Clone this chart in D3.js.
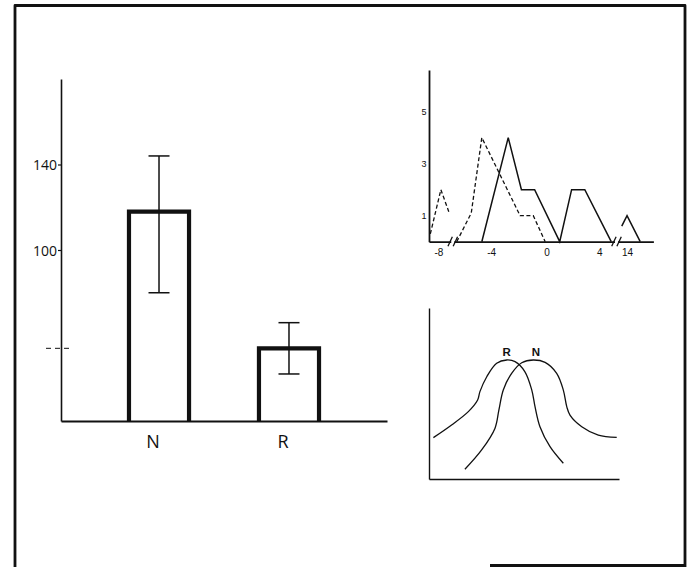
<!DOCTYPE html>
<html>
<head>
<meta charset="utf-8">
<script src="https://cdn.jsdelivr.net/npm/d3@7"></script>
<style>
  html, body { margin: 0; padding: 0; background: #fff; }
  svg { display: block; }
</style>
</head>
<body>
<svg id="fig" width="692" height="567"></svg>
<script>
// ---- Main panel: mean response per group with error-bar ends ----
const categories = ["N", "R"];
const means = [118, 54];
const errLow = [80, 42];
const errHigh = [144, 66];
const yTickValues = [100, 140];
const markerValues = [54];          // unlabelled dashed mark on the y axis

// ---- Upper inset: frequency distributions (x = score, y = count) ----
const solidSegments = [
  [[-4.9, 0], [-2.9, 4], [-1.9, 2], [-0.9, 2], [1.0, 0], [1.9, 2], [2.9, 2], [4.9, 0]],
  [[13.6, 0.6], [14, 1], [15, 0]]
];
const dashedSegments = [
  [[-8.8, 0.3], [-8, 2], [-7.4, 1.15]],
  [[-6.8, 0], [-5.7, 1.1], [-4.9, 4], [-2, 1], [-1, 1], [-0.1, 0]]
];
const distXTicks = [-8, -4, 0, 4, 14];
const distYTicks = [1, 3, 5];
const breakPoints = [-7.1, 5.35];

// ---- Lower inset: schematic response curves ----
const curveLabels = ["R", "N"];
const curveR = [
  [2.3, 24.2], [11.9, 31.6], [20.7, 39.4], [25.6, 46.2], [26.8, 51.1], [30.4, 59.8],
  [35.6, 67.7], [40.9, 69.6], [45.3, 68.6], [50.5, 62.7], [54.1, 52], [55.8, 42.3],
  [58.4, 30.6], [63.7, 18.9], [70.7, 9.2]
];
const curveN = [
  [18.9, 5.7], [27.7, 17], [34.7, 29.6], [36.8, 40.4], [39.1, 52], [43.5, 61.8],
  [48.8, 68], [54.9, 69.6], [61.1, 68.2], [67.2, 61.8], [70.7, 52], [72.5, 42.3],
  [74.2, 37.4], [80.4, 30.6], [89.1, 25.7], [98.8, 24.4]
];

const ink = "#111";
const svg = d3.select("#fig");

// ---------- frame ----------
svg.append("path")
  .attr("d", "M15,567 V5.5 H685 V567 M490,565.5 H686")
  .attr("fill", "none").attr("stroke", ink).attr("stroke-width", 2.8)
  .attr("stroke-linejoin", "round");

// ---------- main bar panel ----------
const yMain = d3.scaleLinear().domain([20, 180]).range([421, 79]);
const xMain = d3.scaleBand().domain(categories).range([61, 387])
  .paddingInner(0.538).paddingOuter(0.523);

const gBars = svg.append("g");
gBars.selectAll("path.bar").data(categories).join("path")
  .attr("class", "bar")
  .attr("d", (c, i) => {
    const x0 = xMain(c), x1 = x0 + xMain.bandwidth();
    return `M${x0},${yMain.range()[0]} V${yMain(means[i])} H${x1} V${yMain.range()[0]}`;
  })
  .attr("fill", "none").attr("stroke", ink).attr("stroke-width", 4.2)
  .attr("stroke-linejoin", "miter");

const cx = c => xMain(c) + xMain.bandwidth() / 2;
const capHalf = 10.5;
const gErr = svg.append("g").attr("stroke", ink).attr("stroke-width", 1.5);
gErr.selectAll("line.stem").data(categories).join("line")
  .attr("x1", cx).attr("x2", cx)
  .attr("y1", (c, i) => yMain(errHigh[i])).attr("y2", (c, i) => yMain(errLow[i]));
gErr.selectAll("line.top").data(categories).join("line")
  .attr("x1", c => cx(c) - capHalf).attr("x2", c => cx(c) + capHalf)
  .attr("y1", (c, i) => yMain(errHigh[i])).attr("y2", (c, i) => yMain(errHigh[i]));
gErr.selectAll("line.bot").data(categories).join("line")
  .attr("x1", c => cx(c) - capHalf).attr("x2", c => cx(c) + capHalf)
  .attr("y1", (c, i) => yMain(errLow[i])).attr("y2", (c, i) => yMain(errLow[i]));

const gY = svg.append("g").attr("transform", "translate(61,0)")
  .call(d3.axisLeft(yMain).tickValues(yTickValues).tickSize(3).tickSizeOuter(0).tickPadding(1)
    .tickFormat(d3.format("d")));
gY.select(".domain").attr("stroke", ink).attr("stroke-width", 1.6);
gY.selectAll(".tick line").attr("stroke", ink).attr("stroke-width", 1.2);
gY.selectAll(".tick text")
  .attr("font-family", "'Open Sans', sans-serif").attr("font-size", 14)
  .attr("fill", ink).attr("dy", "0.36em");

svg.append("g").selectAll("line").data(markerValues).join("line")
  .attr("x1", 46).attr("x2", 72)
  .attr("y1", d => yMain(d)).attr("y2", d => yMain(d))
  .attr("stroke", ink).attr("stroke-width", 1).attr("stroke-dasharray", "5,4");

const gX = svg.append("g").attr("transform", `translate(0,${yMain.range()[0]})`)
  .call(d3.axisBottom(xMain).tickSize(0).tickSizeOuter(0));
gX.select(".domain").attr("stroke", ink).attr("stroke-width", 2);
gX.selectAll(".tick text")
  .attr("font-family", "'Open Sans', sans-serif").attr("font-size", 18)
  .attr("fill", ink).attr("y", 27).attr("dy", 0).attr("dx", -6);

// ---------- upper inset: distributions ----------
const xDist = d3.scaleLinear().domain([-8.9, 5.3, 13.3, 16]).range([429, 616.5, 617.8, 653.4]);
const yDist = d3.scaleLinear().domain([0, 6.6]).range([241.7, 70]);
const fmtTick = d => d < 0 ? "-" + Math.abs(d) : String(d);

const gDX = svg.append("g").attr("transform", `translate(0,${yDist.range()[0]})`)
  .call(d3.axisBottom(xDist).tickValues(distXTicks).tickSize(0).tickSizeOuter(0).tickFormat(fmtTick));
gDX.select(".domain").attr("stroke", ink).attr("stroke-width", 1.8);
gDX.selectAll(".tick text")
  .attr("font-family", "'Liberation Sans', Arial, sans-serif").attr("font-size", 10)
  .attr("fill", ink).attr("y", 14.5).attr("dy", 0)
  .attr("dx", d => d < 0 ? -2.5 : 0);

const gDY = svg.append("g").attr("transform", `translate(${xDist.range()[0]},0)`)
  .call(d3.axisLeft(yDist).tickValues(distYTicks).tickSize(0).tickSizeOuter(0).tickPadding(2.5)
    .tickFormat(d3.format("d")));
gDY.select(".domain").attr("stroke", ink).attr("stroke-width", 1.8);
gDY.selectAll(".tick text")
  .attr("font-family", "'Liberation Sans', Arial, sans-serif").attr("font-size", 9)
  .attr("fill", ink);

const distLine = d3.line().x(d => xDist(d[0])).y(d => yDist(d[1]));
svg.append("g").selectAll("path").data(solidSegments).join("path")
  .attr("d", distLine).attr("fill", "none").attr("stroke", ink)
  .attr("stroke-width", 1.5).attr("stroke-linejoin", "miter");
svg.append("g").selectAll("path").data(dashedSegments).join("path")
  .attr("d", distLine).attr("fill", "none").attr("stroke", ink)
  .attr("stroke-width", 1.3).attr("stroke-dasharray", "4,2.5");

// axis break marks
const gBreak = svg.append("g");
breakPoints.forEach(b => {
  const bx = xDist(b), by = yDist(0);
  gBreak.append("rect").attr("x", bx - 1.5).attr("y", by - 2).attr("width", 3).attr("height", 4).attr("fill", "#fff");
  [-2.6, 2.6].forEach(o => {
    gBreak.append("line")
      .attr("x1", bx + o - 2.2).attr("y1", by + 4.5)
      .attr("x2", bx + o + 2.2).attr("y2", by - 5)
      .attr("stroke", ink).attr("stroke-width", 1.3);
  });
});

// ---------- lower inset: schematic curves ----------
const xSch = d3.scaleLinear().domain([0, 100]).range([429, 619]);
const ySch = d3.scaleLinear().domain([0, 100]).range([479, 308]);

const gSX = svg.append("g").attr("transform", `translate(0,${ySch.range()[0]})`)
  .call(d3.axisBottom(xSch).tickValues([]).tickSizeOuter(0));
gSX.select(".domain").attr("stroke", ink).attr("stroke-width", 1.4);
const gSY = svg.append("g").attr("transform", `translate(${xSch.range()[0]},0)`)
  .call(d3.axisLeft(ySch).tickValues([]).tickSizeOuter(0));
gSY.select(".domain").attr("stroke", ink).attr("stroke-width", 1.4);

const schLine = d3.line().x(d => xSch(d[0])).y(d => ySch(d[1]))
  .curve(d3.curveCatmullRom.alpha(0.5));
const curves = [curveR, curveN];
svg.append("g").selectAll("path").data(curves).join("path")
  .attr("d", schLine).attr("fill", "none").attr("stroke", ink).attr("stroke-width", 1.3);

svg.append("g").selectAll("text").data(curves).join("text")
  .attr("x", (c, i) => xSch(d3.greatest(c, d => d[1])[0]) + (i === 1 ? 2.5 : 0))
  .attr("y", c => ySch(d3.max(c, d => d[1])) - 3.5)
  .attr("text-anchor", "middle")
  .attr("font-family", "'Liberation Sans', Arial, sans-serif")
  .attr("font-size", 11.5).attr("font-weight", "bold").attr("fill", ink)
  .text((c, i) => curveLabels[i]);
</script>
</body>
</html>
